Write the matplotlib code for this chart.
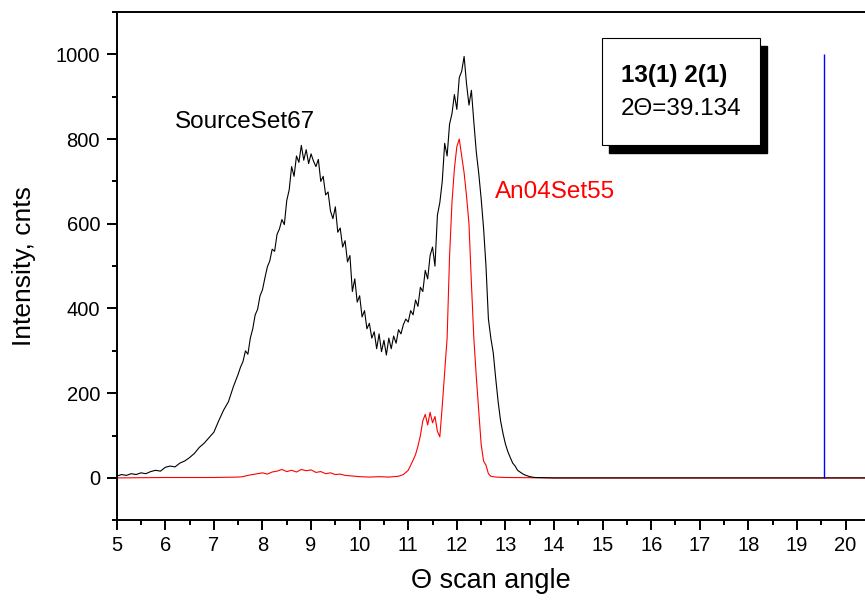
import numpy as np
import matplotlib
matplotlib.use("Agg")
import matplotlib.pyplot as plt
from matplotlib.patches import Rectangle
from matplotlib.ticker import MultipleLocator
from matplotlib.transforms import offset_copy

plt.rcParams['font.family'] = ['Liberation Sans', 'DejaVu Sans']

# SourceSet67 (black)
src_x = [5.0, 5.1, 5.2, 5.3, 5.4, 5.5, 5.6, 5.7, 5.8, 5.9, 6.0, 6.1, 6.2, 6.3, 6.4,
         6.5, 6.6, 6.7, 6.8, 6.9, 7.0, 7.1, 7.2, 7.3, 7.4,
         7.50, 7.55, 7.60, 7.65, 7.70, 7.75, 7.80, 7.85, 7.90, 7.95,
         8.00, 8.05, 8.10, 8.15, 8.20, 8.25, 8.30, 8.35, 8.40, 8.45,
         8.50, 8.55, 8.60, 8.65, 8.70, 8.75, 8.80, 8.85, 8.90, 8.95,
         9.00, 9.05, 9.10, 9.15, 9.20, 9.25, 9.30, 9.35, 9.40, 9.45,
         9.50, 9.55, 9.60, 9.65, 9.70, 9.75, 9.80, 9.85, 9.90, 9.95,
         10.00, 10.05, 10.10, 10.15, 10.20, 10.25, 10.30, 10.35, 10.40, 10.45,
         10.50, 10.55, 10.60, 10.65, 10.70, 10.75, 10.80, 10.85, 10.90, 10.95,
         11.00, 11.05, 11.10, 11.15, 11.20, 11.25, 11.30, 11.35, 11.40, 11.45,
         11.50, 11.55, 11.60, 11.65, 11.70, 11.75, 11.80, 11.85, 11.90, 11.95,
         12.00, 12.05, 12.10, 12.15, 12.20, 12.25, 12.30, 12.35, 12.40, 12.45,
         12.50, 12.55, 12.60, 12.65, 12.70, 12.75, 12.80, 12.85, 12.90, 12.95,
         13.00, 13.05, 13.10, 13.15, 13.20, 13.25, 13.30, 13.35, 13.40, 13.45,
         13.50, 13.55, 13.60, 14.0, 20.6]
src_y = [4, 8, 6, 10, 8, 12, 10, 15, 18, 16, 25, 28, 26, 35, 40,
         48, 58, 72, 82, 95, 108, 135, 160, 180, 215,
         245, 262, 275, 300, 292, 330, 352, 385, 398, 430,
         444, 472, 498, 512, 540, 535, 575, 588, 610, 598,
         655, 680, 735, 712, 760, 745, 785, 750, 775, 742,
         765, 748, 735, 752, 700, 712, 668, 675, 630, 612,
         640, 580, 590, 545, 560, 510, 525, 440, 470, 415,
         430, 380, 395, 352, 365, 330, 345, 305, 340, 298,
         325, 290, 330, 305, 335, 318, 350, 340, 362, 375,
         368, 395, 385, 420, 405, 450, 440, 490, 470, 525,
         545, 500, 620, 650, 700, 790, 760, 835, 860, 905,
         870, 945, 960, 995, 930, 880, 915, 840, 770, 720,
         660, 590, 500, 375, 330, 295, 235, 180, 135, 105,
         80, 62, 48, 35, 28, 18, 14, 10, 7, 5,
         3, 2, 1, 0, 0]

# An04Set55 (red)
an_x = [5.0, 6.0, 7.0, 7.5, 7.6, 7.7, 7.8, 7.9, 8.0, 8.1, 8.2, 8.3, 8.4, 8.5,
        8.6, 8.7, 8.8, 8.9, 9.0, 9.1, 9.2, 9.3, 9.4, 9.5, 9.6, 9.7, 9.8, 9.9,
        10.0, 10.2, 10.4, 10.6, 10.8, 10.9, 11.0, 11.05, 11.1, 11.15, 11.2, 11.25,
        11.3, 11.35, 11.4, 11.45, 11.5, 11.55, 11.6, 11.65, 11.7, 11.75, 11.8,
        11.85, 11.9, 11.95, 12.0, 12.05, 12.1, 12.15, 12.2, 12.25, 12.3, 12.35,
        12.4, 12.45, 12.5, 12.55, 12.6, 12.65, 12.7, 12.8, 13.0, 14.0, 20.6]
an_y = [0, 1, 1, 2, 3, 6, 8, 10, 12, 9, 14, 16, 20, 15,
        18, 14, 20, 17, 19, 13, 15, 10, 12, 8, 9, 6, 5, 4,
        3, 2, 3, 2, 4, 8, 18, 30, 42, 55, 75, 100,
        135, 150, 125, 155, 130, 145, 110, 97, 170, 250, 330,
        522, 650, 730, 782, 800, 760, 720, 665, 600, 460, 330,
        240, 160, 80, 40, 30, 10, 4, 2, 1, 0, 0]

marker_pos = 19.56
marker_height = 1000
hkl_label = '13(1) 2(1)'
two_theta_label = '2\u0398=39.134'

fig = plt.figure(figsize=(8.65, 6.01), dpi=100)
ax = fig.add_axes([0.1349, 0.1343, 0.8651, 0.8458])

ax.plot(an_x, an_y, color='red', linewidth=0.8)
ax.plot(src_x, src_y, color='black', linewidth=0.8)
ax.vlines(marker_pos, 0, marker_height, color='blue', linewidth=1.0)

ax.set_xlim(5, 20.4)
ax.set_ylim(-100, 1100)
ax.xaxis.set_major_locator(MultipleLocator(1))
ax.xaxis.set_minor_locator(MultipleLocator(0.5))
ax.yaxis.set_minor_locator(MultipleLocator(100))
ax.set_yticks([0, 200, 400, 600, 800, 1000])

for s in ax.spines.values():
    s.set_linewidth(1.4)
ax.spines['right'].set_visible(False)
ax.tick_params(which='major', direction='out', length=7, width=1.4, labelsize=14.5, pad=4)
ax.tick_params(which='minor', direction='out', length=3.6, width=1.4)
ax.tick_params(axis='y', which='major', pad=5)

ax.set_xlabel('\u0398 scan angle', fontsize=19.5, labelpad=10)
ax.set_ylabel('Intensity, cnts', fontsize=19, labelpad=14)

ax.text(6.20, 827, 'SourceSet67', fontsize=17.5, color='black', va='baseline')
ax.text(12.78, 661, 'An04Set55', fontsize=17.5, color='red', va='baseline')

# annotation box with drop shadow
shadow_tr = offset_copy(ax.transData, fig=fig, x=7, y=-8, units='dots')
ax.add_patch(Rectangle((14.98, 787), 3.26, 252.5, transform=shadow_tr,
                       facecolor='black', edgecolor='black', zorder=4))
ax.add_patch(Rectangle((14.98, 787), 3.26, 252.5, facecolor='white',
                       edgecolor='black', linewidth=0.8, zorder=5))
ax.text(15.37, 934, hkl_label, fontsize=17.5, fontweight='bold', va='baseline', zorder=6)
ax.text(15.37, 856, two_theta_label, fontsize=17.5, va='baseline', zorder=6)

plt.savefig('out.png', dpi=100)
